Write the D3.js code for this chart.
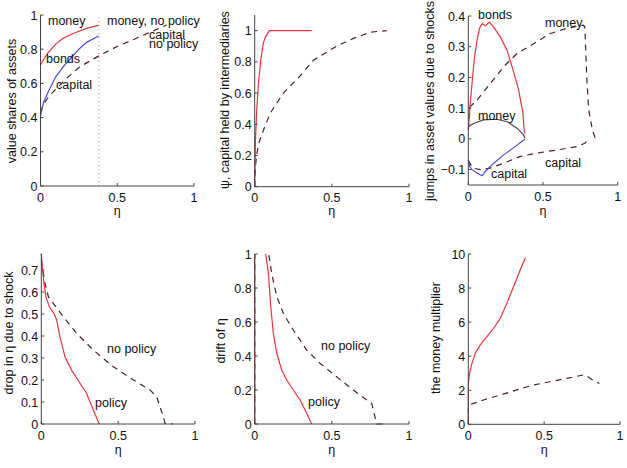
<!DOCTYPE html>
<html>
<head>
<meta charset='utf-8'>
<style>
    body { margin: 0; background: #fff; }
    text { font-family: "Liberation Sans", Arial, sans-serif; fill: #111; }
    .tick { font-size: 12.5px; }
    .lab { font-size: 12.5px; }
    .note { font-size: 12.5px; }
    .axisline { stroke: #444; stroke-width: 1; fill: none; }
</style>
</head>
<body>
<div id='chart'></div>
<script src="https://d3js.org/d3.v7.min.js"></script>
<script>
    // eta grid ticks
    var etaTicks = [0, 0.5, 1];

    // panel 1: value shares of assets
    var sharesMoney = [[0, 0.706], [0.02, 0.74], [0.05, 0.78], [0.104, 0.834], [0.15, 0.866], [0.213, 0.892], [0.3, 0.922], [0.378, 0.939]];
    var sharesBonds = [[0, 0.41], [0.02, 0.49], [0.05, 0.55], [0.1, 0.64], [0.15, 0.70], [0.2, 0.75], [0.25, 0.80], [0.3, 0.84], [0.378, 0.877]];
    var sharesCapNoPolicy = [[0, 0.43], [0.02, 0.48], [0.06, 0.53], [0.17, 0.63], [0.256, 0.697], [0.387, 0.765], [0.496, 0.814], [0.648, 0.873], [0.82, 0.941]];
    var policyBound = [[0.38, 0], [0.38, 1]];

    // panel 2: psi
    var psiPolicy = [[0, 0], [0.002, 0.15], [0.005, 0.3], [0.013, 0.49], [0.024, 0.66], [0.039, 0.81], [0.056, 0.92], [0.07, 0.96], [0.095, 1.0], [0.37, 1.0]];
    var psiNoPolicy = [[0, 0], [0.004, 0.12], [0.013, 0.21], [0.03, 0.29], [0.056, 0.36], [0.1, 0.47], [0.186, 0.6], [0.29, 0.705], [0.38, 0.81], [0.53, 0.9], [0.64, 0.95], [0.75, 0.99], [0.855, 1.0]];

    // panel 3: jumps in asset values
    var jumpBonds = [[0.002, 0.04], [0.01, 0.1], [0.025, 0.18], [0.04, 0.26], [0.058, 0.32], [0.075, 0.36], [0.094, 0.375], [0.114, 0.368], [0.14, 0.38], [0.17, 0.364], [0.214, 0.332], [0.259, 0.289], [0.3, 0.224], [0.337, 0.159], [0.366, 0.083], [0.375, 0.024], [0.38, 0.018]];
    var jumpMoney = [[0, 0.04], [0.036, 0.05], [0.1, 0.062], [0.19, 0.064], [0.26, 0.056], [0.326, 0.035], [0.37, 0.013], [0.38, 0.002]];
    var jumpCapital = [[0, -0.068], [0.01, -0.09], [0.025, -0.10], [0.058, -0.111], [0.092, -0.12], [0.114, -0.106], [0.17, -0.079], [0.237, -0.052], [0.3, -0.03], [0.38, 0.0]];
    var jumpMoneyNoPolicy = [[0, 0.03], [0.013, 0.105], [0.058, 0.126], [0.147, 0.18], [0.237, 0.235], [0.326, 0.278], [0.4375, 0.31], [0.549, 0.343], [0.66, 0.36], [0.77, 0.37], [0.78, 0.365], [0.793, 0.2], [0.806, 0.094], [0.83, 0.03], [0.85, 0.002], [0.88, 0.0]];
    var jumpCapNoPolicy = [[0, -0.07], [0.03, -0.095], [0.08, -0.10], [0.147, -0.095], [0.237, -0.079], [0.348, -0.057], [0.46, -0.046], [0.594, -0.036], [0.728, -0.025], [0.78, -0.014], [0.81, 0.0]];

    // panel 4: drop in eta due to shock
    var dropPolicy = [[0, 0.776], [0.0065, 0.715], [0.017, 0.64], [0.03, 0.579], [0.052, 0.533], [0.082, 0.503], [0.1, 0.473], [0.121, 0.397], [0.154, 0.306], [0.197, 0.245], [0.252, 0.185], [0.295, 0.139], [0.338, 0.064], [0.377, 0.0]];
    var dropNoPolicy = [[0, 0.745], [0.024, 0.64], [0.046, 0.579], [0.078, 0.548], [0.143, 0.488], [0.23, 0.412], [0.338, 0.336], [0.469, 0.26], [0.6, 0.2], [0.707, 0.155], [0.75, 0.124], [0.772, 0.079], [0.794, 0.033], [0.805, 0.003], [0.855, 0.0]];

    // panel 5: drift of eta
    var driftPolicy = [[0, 0], [0, 1.3], [0.071, 1.0], [0.089, 0.886], [0.104, 0.69], [0.121, 0.533], [0.143, 0.416], [0.175, 0.318], [0.207, 0.259], [0.25, 0.2], [0.294, 0.141], [0.337, 0.063], [0.369, 0.0]];
    var driftNoPolicy = [[0, 0], [0, 1.3], [0.091, 1.0], [0.11, 0.886], [0.143, 0.75], [0.186, 0.65], [0.25, 0.553], [0.337, 0.435], [0.423, 0.357], [0.531, 0.278], [0.639, 0.2], [0.726, 0.141], [0.758, 0.122], [0.769, 0.082], [0.784, 0.024], [0.79, 0.0], [0.845, 0.0]];

    // panel 6: money multiplier
    var multPolicy = [[0, 0], [0, 2.4], [0.009, 3.0], [0.024, 3.58], [0.046, 4.17], [0.079, 4.66], [0.123, 5.15], [0.167, 5.64], [0.21, 6.22], [0.254, 7.1], [0.298, 8.08], [0.342, 9.06], [0.377, 9.8]];
    var multNoPolicy = [[0, 0], [0, 1.13], [0.035, 1.23], [0.1, 1.43], [0.21, 1.72], [0.32, 2.02], [0.43, 2.31], [0.54, 2.5], [0.65, 2.7], [0.76, 2.9], [0.78, 2.84], [0.82, 2.6], [0.864, 2.4]];

    var RED = "#e8353c", BLUE = "#4b4bdc", DARK = "#4a2027", GREY = "#4a4a4a";

    var panels = [
        { x0: 40.5, x1: 194, yb: 186, yt: 15, yDomain: [0, 1], yTicks: [0, 0.2, 0.4, 0.6, 0.8, 1],
          ylabel: "value shares of assets", ylx: 12, yly: 101, etaY: 215,
          series: [
            { d: policyBound, c: "#999", dash: "1,3", w: 1 },
            { d: sharesCapNoPolicy, c: DARK, dash: "6,5" },
            { d: sharesBonds, c: BLUE },
            { d: sharesMoney, c: RED }
          ],
          notes: [["money", 48, 25], ["money, no policy", 107, 25], ["capital", 149, 39], ["no policy", 149, 48], ["bonds", 46, 63], ["capital", 56, 89]] },
        { x0: 254.7, x1: 409, yb: 186.7, yt: 15, yDomain: [0, 1.1], yTicks: [0, 0.2, 0.4, 0.6, 0.8, 1],
          ylabel: "\u03c8, capital held by intermediaries", ylx: 225, yly: 100, etaY: 215,
          series: [
            { d: psiNoPolicy, c: DARK, dash: "6,5" },
            { d: psiPolicy, c: RED }
          ], notes: [] },
        { x0: 468.3, x1: 617.7, yb: 185, yt: 16, yDomain: [-0.15, 0.4], yTicks: [-0.1, 0, 0.1, 0.2, 0.3, 0.4],
          ylabel: "jumps in asset values due to shocks", ylx: 430, yly: 101, etaY: 215,
          series: [
            { d: jumpMoneyNoPolicy, c: DARK, dash: "6,5" },
            { d: jumpCapNoPolicy, c: DARK, dash: "6,5" },
            { d: jumpMoney, c: GREY },
            { d: jumpCapital, c: BLUE },
            { d: jumpBonds, c: RED }
          ],
          notes: [["bonds", 478, 19], ["money", 545, 27], ["money", 478, 120], ["capital", 545, 167], ["capital", 491, 178]] },
        { x0: 41.3, x1: 195, yb: 424, yt: 253.5, yDomain: [0, 0.775], yTicks: [0, 0.1, 0.2, 0.3, 0.4, 0.5, 0.6, 0.7],
          ylabel: "drop in \u03b7 due to shock", ylx: 9, yly: 333, etaY: 454,
          series: [
            { d: dropNoPolicy, c: DARK, dash: "6,5" },
            { d: dropPolicy, c: RED }
          ],
          notes: [["no policy", 107, 353], ["policy", 95, 407]] },
        { x0: 254.7, x1: 409, yb: 424, yt: 254, yDomain: [0, 1], yTicks: [0, 0.2, 0.4, 0.6, 0.8, 1],
          ylabel: "drift of \u03b7", ylx: 221, yly: 341, etaY: 454,
          series: [
            { d: driftNoPolicy, c: DARK, dash: "6,5" },
            { d: driftPolicy, c: RED }
          ],
          notes: [["no policy", 321, 350], ["policy", 308, 406]] },
        { x0: 468.3, x1: 620, yb: 424.3, yt: 254, yDomain: [0, 10], yTicks: [0, 2, 4, 6, 8, 10],
          ylabel: "the money multiplier", ylx: 436, yly: 338, etaY: 454,
          series: [
            { d: multNoPolicy, c: DARK, dash: "6,5" },
            { d: multPolicy, c: RED }
          ], notes: [] }
    ];

    var svg = d3.select("#chart").append("svg")
        .attr("width", 627).attr("height", 468);
    svg.append("rect").attr("width", 627).attr("height", 468).attr("fill", "#fff");

    function fmt(v) {
        return v < 0 ? "\u2212" + Math.abs(v) : String(v);
    }

    panels.forEach(function(p, i) {
        var x = d3.scaleLinear().domain([0, 1]).range([p.x0, p.x1]);
        var y = d3.scaleLinear().domain(p.yDomain).range([p.yb, p.yt]);
        var g = svg.append("g");

        var clipId = "clip" + i;
        svg.append("clipPath").attr("id", clipId).append("rect")
            .attr("x", p.x0 - 1).attr("y", p.yt).attr("width", p.x1 - p.x0 + 2).attr("height", p.yb - p.yt + 1);

        var line = d3.line().x(function(d) { return x(d[0]); }).y(function(d) { return y(d[1]); });
        var lines = g.append("g").attr("clip-path", "url(#" + clipId + ")");
        p.series.forEach(function(s) {
            lines.append("path")
                .attr("d", line(s.d))
                .attr("fill", "none")
                .attr("stroke", s.c)
                .attr("stroke-width", s.w || 1.2)
                .attr("stroke-dasharray", s.dash || null);
        });

        // axes (matlab-like: left + bottom, inward ticks)
        g.append("line").attr("class", "axisline")
            .attr("x1", p.x0).attr("x2", p.x0).attr("y1", p.yb).attr("y2", p.yt);
        g.append("line").attr("class", "axisline")
            .attr("x1", p.x0).attr("x2", p.x1).attr("y1", p.yb).attr("y2", p.yb);

        p.yTicks.forEach(function(t) {
            g.append("line").attr("class", "axisline")
                .attr("x1", p.x0).attr("x2", p.x0 + 3).attr("y1", y(t)).attr("y2", y(t));
            g.append("text").attr("class", "tick")
                .attr("x", p.x0 - 3).attr("y", y(t)).attr("dy", "0.36em")
                .attr("text-anchor", "end").text(fmt(t));
        });
        etaTicks.forEach(function(t) {
            g.append("line").attr("class", "axisline")
                .attr("x1", x(t)).attr("x2", x(t)).attr("y1", p.yb).attr("y2", p.yb - 3);
            g.append("text").attr("class", "tick")
                .attr("x", x(t)).attr("y", p.yb + 15.5)
                .attr("text-anchor", "middle").text(fmt(t));
        });

        g.append("text").attr("class", "lab")
            .attr("x", (p.x0 + p.x1) / 2).attr("y", p.etaY)
            .attr("text-anchor", "middle").text("\u03b7");
        g.append("text").attr("class", "lab")
            .attr("transform", "translate(" + p.ylx + "," + p.yly + ") rotate(-90)")
            .attr("dy", "0.35em")
            .attr("text-anchor", "middle").text(p.ylabel);

        p.notes.forEach(function(n) {
            g.append("text").attr("class", "note")
                .attr("x", n[1]).attr("y", n[2]).text(n[0]);
        });
    });
</script>
</body>
</html>
